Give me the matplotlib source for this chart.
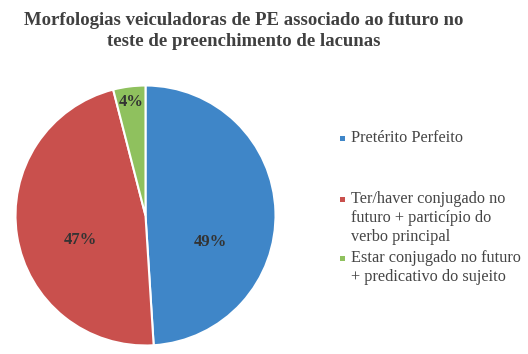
import matplotlib
matplotlib.use("Agg")
import matplotlib.pyplot as plt
from matplotlib.patches import Rectangle

title = "Morfologias veiculadoras de PE associado ao futuro no\nteste de preenchimento de lacunas"
categories = [
    "Pretérito Perfeito",
    "Ter/haver conjugado no\nfuturo + particípio do\nverbo principal",
    "Estar conjugado no futuro\n+ predicativo do sujeito",
]
values = [49, 47, 4]
colors = ["#3f86c8", "#c9504d", "#8fc15e"]

# label positions (data units, pie radius = 1) and legend text top (px from top)
label_pos = [(0.50, -0.20), (-0.50, -0.19), (-0.11, 0.87)]
legend_top = [130, 191, 250]

W, H = 528, 354
fig = plt.figure(figsize=(W / 100, H / 100), dpi=100)
serif = ["Liberation Serif", "DejaVu Serif"]

ax = fig.add_axes([15.5 / W, 8.5 / H, 260 / W, 260 / H])
wedges, _ = ax.pie(values, colors=colors, startangle=90, counterclock=False,
                   radius=1, wedgeprops=dict(edgecolor="white", linewidth=1.5))
ax.set_xlim(-1, 1)
ax.set_ylim(-1, 1)
ax.set_aspect("equal")
ax.axis("off")

for v, (x, y) in zip(values, label_pos):
    ax.text(x, y, f"{v}%", ha="center", va="center", fontsize=12,
            fontweight="bold", color="#333333", family=serif)

fig.text(244 / W, 1 - 31 / H, title, ha="center", va="center", fontsize=13.5,
         fontweight="bold", color="#404040", family=serif, linespacing=1.3)

for lab, c, top in zip(categories, colors, legend_top):
    fig.text(351 / W, 1 - top / H, lab, ha="left", va="top", fontsize=11.7,
             color="#454545", family=serif, linespacing=1.27)
    fig.patches.append(Rectangle((340 / W, 1 - (top + 11) / H), 5 / W, 5 / H,
                                 transform=fig.transFigure, facecolor=c,
                                 edgecolor="none", figure=fig))

fig.savefig("out.png", dpi=100)
